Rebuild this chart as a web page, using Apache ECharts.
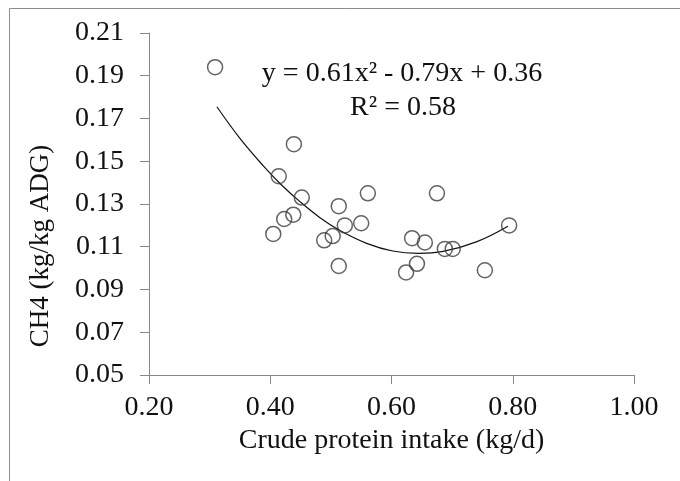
<!DOCTYPE html>
<html>
<head>
<meta charset="utf-8">
<script src="https://cdn.jsdelivr.net/npm/echarts@6/dist/echarts.min.js"></script>
<style>
html,body{margin:0;padding:0;background:#fff;}
#chart{width:680px;height:481px;}
</style>
</head>
<body>
<div id="chart"></div>
<script>
// Observed points: crude protein intake (kg/d) vs CH4 (kg/kg ADG)
const cpIntake = [0.309, 0.439, 0.414, 0.452, 0.561, 0.513, 0.423, 0.438, 0.405, 0.523, 0.550, 0.489, 0.503, 0.513, 0.634, 0.655, 0.642, 0.624, 0.675, 0.688, 0.701, 0.754, 0.794];
const ch4 = [0.194, 0.158, 0.143, 0.133, 0.135, 0.129, 0.123, 0.125, 0.116, 0.120, 0.121, 0.113, 0.115, 0.101, 0.114, 0.112, 0.102, 0.098, 0.135, 0.109, 0.109, 0.099, 0.120];
// Trend curve
const trendX = [0.312, 0.350, 0.389, 0.416, 0.449, 0.482, 0.515, 0.559, 0.602, 0.644, 0.685, 0.741, 0.792];
const trendY = [0.1755, 0.1607, 0.1477, 0.1396, 0.1311, 0.1236, 0.1176, 0.1116, 0.1080, 0.1069, 0.1078, 0.1124, 0.1196];
const yTicks = [0.05, 0.07, 0.09, 0.11, 0.13, 0.15, 0.17, 0.19, 0.21];
const xTicks = [0.20, 0.40, 0.60, 0.80, 1.00];
const xTitle = 'Crude protein intake (kg/d)';
const yTitle = 'CH4 (kg/kg ADG)';
const equationText = 'y = 0.61x² - 0.79x + 0.36';
const r2Text = 'R² = 0.58';

const FONT = 'Liberation Serif';
const chart = echarts.init(document.getElementById('chart'));
const axisGray = '#888888';

chart.setOption({
  animation: false,
  backgroundColor: '#ffffff',
  grid: { left: 149, top: 33, width: 485, height: 342, containLabel: false },
  xAxis: {
    type: 'value',
    min: 0.2, max: 1.0,
    name: xTitle,
    nameLocation: 'middle',
    nameGap: 49,
    nameTextStyle: { fontFamily: FONT, fontSize: 28, color: '#111' },
    axisLine: { show: true, onZero: false, lineStyle: { color: axisGray, width: 1 } },
    axisTick: { show: true, length: 9, inside: false, customValues: xTicks, lineStyle: { color: axisGray } },
    axisLabel: { customValues: xTicks, fontFamily: FONT, fontSize: 28, color: '#111', margin: 19,
      formatter: v => v.toFixed(2) },
    splitLine: { show: false }
  },
  yAxis: {
    type: 'value',
    min: 0.05, max: 0.21,
    axisLine: { show: true, onZero: false, lineStyle: { color: axisGray, width: 1 } },
    axisTick: { show: true, length: 9, inside: false, customValues: yTicks, lineStyle: { color: axisGray } },
    axisLabel: { customValues: yTicks, fontFamily: FONT, fontSize: 28, color: '#111', margin: 25,
      formatter: v => v.toFixed(2) },
    splitLine: { show: false }
  },
  graphic: [
    { type: 'rect', silent: true, shape: { x: 9.5, y: 8.5, width: 800, height: 600 },
      style: { fill: 'none', stroke: '#8c8c8c', lineWidth: 1 } },
    { type: 'text', x: 41, y: 246, rotation: Math.PI / 2, silent: true,
      style: { text: yTitle, font: '27px "Liberation Serif"', fill: '#111', align: 'center', verticalAlign: 'middle' } },
    { type: 'text', x: 402, y: 74, silent: true,
      style: { text: equationText, font: '28px "Liberation Serif"', fill: '#111', align: 'center', verticalAlign: 'middle' } },
    { type: 'text', x: 403, y: 108, silent: true,
      style: { text: r2Text, font: '28px "Liberation Serif"', fill: '#111', align: 'center', verticalAlign: 'middle' } }
  ],
  series: [
    {
      type: 'line',
      data: trendX.map((x, i) => [x, trendY[i]]),
      smooth: 0.4,
      symbol: 'none',
      lineStyle: { color: '#111', width: 1.2 },
      z: 2
    },
    {
      type: 'scatter',
      data: cpIntake.map((x, i) => [x, ch4[i]]),
      symbol: 'circle',
      symbolSize: 15,
      itemStyle: { color: 'rgba(0,0,0,0)', borderColor: '#3c3c3c', borderWidth: 1.5 },
      z: 3
    }
  ]
});
</script>
</body>
</html>
